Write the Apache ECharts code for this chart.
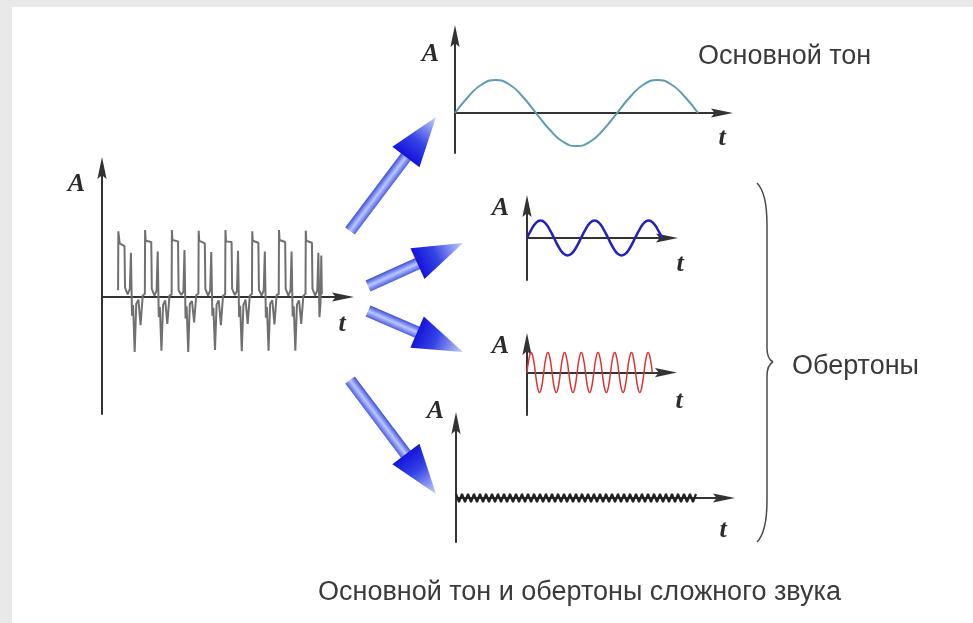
<!DOCTYPE html>
<html>
<head>
<meta charset="utf-8">
<script src="https://cdn.jsdelivr.net/npm/echarts@6.0.0/dist/echarts.min.js"></script>
<style>
html,body{margin:0;padding:0;background:#ffffff;}
#chart{width:973px;height:623px;}
</style>
</head>
<body>
<div id="chart"></div>
<script>
// ---------------- DATA ----------------
// complex sound: [t (in fundamental periods), A]
const complexWave = [
  [0.60,0.10],[0.61,0.98],[0.66,0.80],[0.84,0.76],[0.86,0.14],[0.96,0.04],[1.04,0.12],[1.08,0.66],[1.12,-0.28],[1.16,-0.12],[1.22,-0.82],[1.28,-0.10],[1.36,-0.04],[1.44,-0.42],[1.52,0.02],
  [1.60,0.05],[1.61,1.00],[1.63,0.84],[1.84,0.82],[1.86,0.12],[1.96,0.02],[2.04,0.10],[2.08,0.68],[2.12,-0.30],[2.16,-0.15],[2.22,-0.80],[2.28,-0.12],[2.36,-0.05],[2.44,-0.40],[2.52,0.02],
  [2.60,0.04],[2.61,1.00],[2.63,0.85],[2.84,0.83],[2.86,0.10],[2.96,0.03],[3.04,0.08],[3.08,0.70],[3.12,-0.32],[3.16,-0.14],[3.22,-0.82],[3.28,-0.10],[3.36,-0.06],[3.44,-0.38],[3.52,0.03],
  [3.60,0.05],[3.61,0.99],[3.63,0.84],[3.84,0.80],[3.86,0.12],[3.96,0.02],[4.04,0.10],[4.08,0.67],[4.12,-0.28],[4.16,-0.16],[4.22,-0.79],[4.28,-0.11],[4.36,-0.05],[4.44,-0.42],[4.52,0.02],
  [4.60,0.04],[4.61,1.00],[4.63,0.83],[4.84,0.82],[4.86,0.12],[4.96,0.03],[5.04,0.09],[5.08,0.69],[5.12,-0.30],[5.16,-0.13],[5.22,-0.81],[5.28,-0.12],[5.36,-0.04],[5.44,-0.40],[5.52,0.02],
  [5.60,0.05],[5.61,0.98],[5.63,0.84],[5.84,0.81],[5.86,0.11],[5.96,0.02],[6.04,0.10],[6.08,0.68],[6.12,-0.31],[6.16,-0.15],[6.22,-0.80],[6.28,-0.10],[6.36,-0.05],[6.44,-0.41],[6.52,0.03],
  [6.60,0.04],[6.61,1.00],[6.63,0.85],[6.84,0.82],[6.86,0.12],[6.96,0.02],[7.04,0.10],[7.08,0.68],[7.12,-0.29],[7.16,-0.14],[7.22,-0.80],[7.28,-0.11],[7.36,-0.05],[7.44,-0.40],[7.52,0.02],
  [7.60,0.05],[7.61,0.99],[7.63,0.84],[7.84,0.81],[7.86,0.12],[7.96,0.02],[8.04,0.10],[8.08,0.66],[8.12,-0.30],[8.16,-0.10],[8.19,0.62],[8.21,0.04]
];
// fundamental tone, sampled every 1/12 period (1.5 periods)
const fundamentalStep = 1 / 12;
const fundamentalA = [0,0.5,0.87,1,0.87,0.5,0,-0.5,-0.87,-1,-0.87,-0.5,0,0.5,0.87,1,0.87,0.5,0];
// first overtone (blue), every 1/12 period (2.5 periods)
const overtone1Step = 1 / 12;
const overtone1A = [0,0.5,0.87,1,0.87,0.5,0,-0.5,-0.87,-1,-0.87,-0.5,
                    0,0.5,0.87,1,0.87,0.5,0,-0.5,-0.87,-1,-0.87,-0.5,
                    0,0.5,0.87,1,0.87,0.5,0];
// second overtone (red), every 1/8 period (7.5 periods)
const overtone2Step = 0.125;
const overtone2A = [0,0.71,1,0.71,0,-0.71,-1,-0.71, 0,0.71,1,0.71,0,-0.71,-1,-0.71,
                    0,0.71,1,0.71,0,-0.71,-1,-0.71, 0,0.71,1,0.71,0,-0.71,-1,-0.71,
                    0,0.71,1,0.71,0,-0.71,-1,-0.71, 0,0.71,1,0.71,0,-0.71,-1,-0.71,
                    0,0.71,1,0.71,0,-0.71,-1,-0.71, 0,0.71,1,0.71,0];
// high overtone (black), every 1/2 period (40 periods)
const overtone3Step = 0.5;
const overtone3A = [1,-1,1,-1,1,-1,1,-1,1,-1,1,-1,1,-1,1,-1,1,-1,1,-1,
                    1,-1,1,-1,1,-1,1,-1,1,-1,1,-1,1,-1,1,-1,1,-1,1,-1,
                    1,-1,1,-1,1,-1,1,-1,1,-1,1,-1,1,-1,1,-1,1,-1,1,-1,
                    1,-1,1,-1,1,-1,1,-1,1,-1,1,-1,1,-1,1,-1,1,-1,1,-1,1];
// texts
const axisNameA = 'A';
const axisNameT = 't';
const labelFundamental = 'Основной тон';
const labelOvertones = 'Обертоны';
const captionText = 'Основной тон и обертоны сложного звука';

// ---------------- CHART ----------------
function sampled(values, step) { return values.map(function (v, i) { return [i * step, v]; }); }

const ARROW = 'path://M5,0L10,24L5,20L0,24Z';
const nameFont = {fontFamily:'Liberation Serif', fontStyle:'italic', fontWeight:'bold', fontSize:26, color:'#2b2b2b', lineHeight:26};

const panels = [
  {grid:{left:102, top:168, width:241, height:246}, xMax:9.0,  yMin:-1.746, yMax:1.925, gapA:-16, padA:17, gapT:-1, padT:14,
   data: complexWave, color:'#707070', lw:2, smooth:false},
  {grid:{left:455, top:36,  width:267, height:117}, xMax:1.648, yMin:-1.21, yMax:2.33, gapA:-18, padA:16, gapT:0, padT:12,
   data: sampled(fundamentalA, fundamentalStep), color:'#5f9cb3', lw:2, smooth:true},
  {grid:{left:527, top:206, width:140, height:74},  xMax:2.59, yMin:-2.4, yMax:1.83, gapA:-2, padA:18, gapT:13, padT:13,
   data: sampled(overtone1A, overtone1Step), color:'#2323b8', lw:2.5, smooth:true},
  {grid:{left:527, top:344, width:139, height:71},  xMax:8.32, yMin:-2.12, yMax:1.43, gapA:-2, padA:18, gapT:13, padT:16,
   data: sampled(overtone2A, overtone2Step), color:'#dd3333', lw:1.5, smooth:true},
  {grid:{left:456, top:423, width:268, height:119}, xMax:44.67, yMin:-11, yMax:18.75, gapA:12, padA:12, gapT:-1, padT:19,
   data: sampled(overtone3A, overtone3Step), color:'#222222', lw:2.2, smooth:false}
];

const axisLineBase = {show:true, onZero:true, symbol:['none', ARROW], symbolSize:[14,22], lineStyle:{color:'#333333', width:2}};

const grids = panels.map(function (p) { return Object.assign({outerBoundsMode:'none', containLabel:false}, p.grid); });
const xAxes = panels.map(function (p, i) {
  return {gridIndex:i, type:'value', min:0, max:p.xMax,
    axisLine:axisLineBase, axisTick:{show:false}, axisLabel:{show:false}, splitLine:{show:false},
    name:axisNameT, nameLocation:'end', nameGap:p.gapT, nameMoveOverlap:false,
    nameTextStyle:Object.assign({align:'center', verticalAlign:'top', padding:[p.padT,0,0,0]}, nameFont)};
});
const yAxes = panels.map(function (p, i) {
  return {gridIndex:i, type:'value', min:p.yMin, max:p.yMax,
    axisLine:axisLineBase, axisTick:{show:false}, axisLabel:{show:false}, splitLine:{show:false},
    name:axisNameA, nameLocation:'end', nameGap:p.gapA, nameMoveOverlap:false,
    nameTextStyle:Object.assign({align:'right', verticalAlign:'middle', padding:[0,p.padA,0,0]}, nameFont)};
});
const series = panels.map(function (p, i) {
  return {type:'line', xAxisIndex:i, yAxisIndex:i, data:p.data, showSymbol:false, symbol:'none',
    smooth:p.smooth, lineStyle:{color:p.color, width:p.lw}, z:3, silent:true};
});

// decorative 3D-looking blue arrows (tail -> tip)
const arrowGeom = [
  {tail:[350,231], tip:[436,117]},
  {tail:[368,286], tip:[463,243]},
  {tail:[368,311], tip:[463,352]},
  {tail:[350,380], tip:[436,494]}
];
function makeArrow(g) {
  const dx = g.tip[0]-g.tail[0], dy = g.tip[1]-g.tail[1];
  const len = Math.hypot(dx, dy), ux = dx/len, uy = dy/len, nx = -uy, ny = ux;
  const L = 50, hw = 17, sw = 6;
  const bx = g.tip[0]-ux*L, by = g.tip[1]-uy*L;
  const shaftPts = [[g.tail[0]+nx*sw, g.tail[1]+ny*sw],[bx+ux*4+nx*sw, by+uy*4+ny*sw],[bx+ux*4-nx*sw, by+uy*4-ny*sw],[g.tail[0]-nx*sw, g.tail[1]-ny*sw]];
  const headPts = [[bx+nx*hw, by+ny*hw], g.tip, [bx-nx*hw, by-ny*hw]];
  const shaftFill = new echarts.graphic.LinearGradient(g.tail[0]-nx*sw, g.tail[1]-ny*sw, g.tail[0]+nx*sw, g.tail[1]+ny*sw,
    [{offset:0,color:'#3a4cda'},{offset:0.5,color:'#bcc7ff'},{offset:1,color:'#4a5ce0'}], true);
  const headFill = new echarts.graphic.LinearGradient(bx, by, g.tip[0], g.tip[1],
    [{offset:0,color:'#1414dc'},{offset:0.4,color:'#3444e4'},{offset:1,color:'#c8d1fb'}], true);
  return [
    {type:'polygon', shape:{points:shaftPts}, style:{fill:shaftFill}, z:10, silent:true},
    {type:'polygon', shape:{points:headPts}, style:{fill:headFill}, z:11, silent:true}
  ];
}
let graphics = [
  {type:'rect', shape:{x:0, y:0, width:973, height:7}, style:{fill:'#e9e9e9'}, z:0, silent:true},
  {type:'rect', shape:{x:0, y:0, width:12, height:623}, style:{fill:'#e9e9e9'}, z:0, silent:true}
];
arrowGeom.forEach(function (g) { graphics = graphics.concat(makeArrow(g)); });

// curly brace for overtones
const braceStyle = {stroke:'#4a4a4a', lineWidth:1.5, fill:'none'};
graphics.push(
  {type:'bezierCurve', shape:{x1:757,y1:183,cpx1:764,cpy1:190,cpx2:767,cpy2:205,x2:767,y2:225}, style:braceStyle, silent:true},
  {type:'line', shape:{x1:767,y1:225,x2:767,y2:348}, style:braceStyle, silent:true},
  {type:'bezierCurve', shape:{x1:767,y1:348,cpx1:767,cpy1:356,cpx2:769,cpy2:360,x2:773,y2:362}, style:braceStyle, silent:true},
  {type:'bezierCurve', shape:{x1:773,y1:362,cpx1:769,cpy1:364,cpx2:767,cpy2:368,x2:767,y2:376}, style:braceStyle, silent:true},
  {type:'line', shape:{x1:767,y1:376,x2:767,y2:500}, style:braceStyle, silent:true},
  {type:'bezierCurve', shape:{x1:767,y1:500,cpx1:767,cpy1:520,cpx2:764,cpy2:535,x2:757,y2:542}, style:braceStyle, silent:true}
);
const labelFont = {fontFamily:'Liberation Sans', fontSize:27, fill:'#3a3a3a'};
graphics.push(
  {type:'text', x:698, y:57, style:Object.assign({text:labelFundamental, textVerticalAlign:'middle', textAlign:'left'}, labelFont), silent:true},
  {type:'text', x:792, y:367, style:Object.assign({text:labelOvertones, textVerticalAlign:'middle', textAlign:'left'}, labelFont), silent:true}
);

const chart = echarts.init(document.getElementById('chart'), null, {renderer:'canvas'});
chart.setOption({
  backgroundColor:'#ffffff',
  animation:false,
  title:{text:captionText, left:318, top:579, padding:0,
    textStyle:{fontFamily:'Liberation Sans', fontSize:27, fontWeight:'normal', color:'#3a3a3a'}},
  grid:grids,
  xAxis:xAxes,
  yAxis:yAxes,
  series:series,
  graphic:{elements:graphics}
});
</script>
</body>
</html>
